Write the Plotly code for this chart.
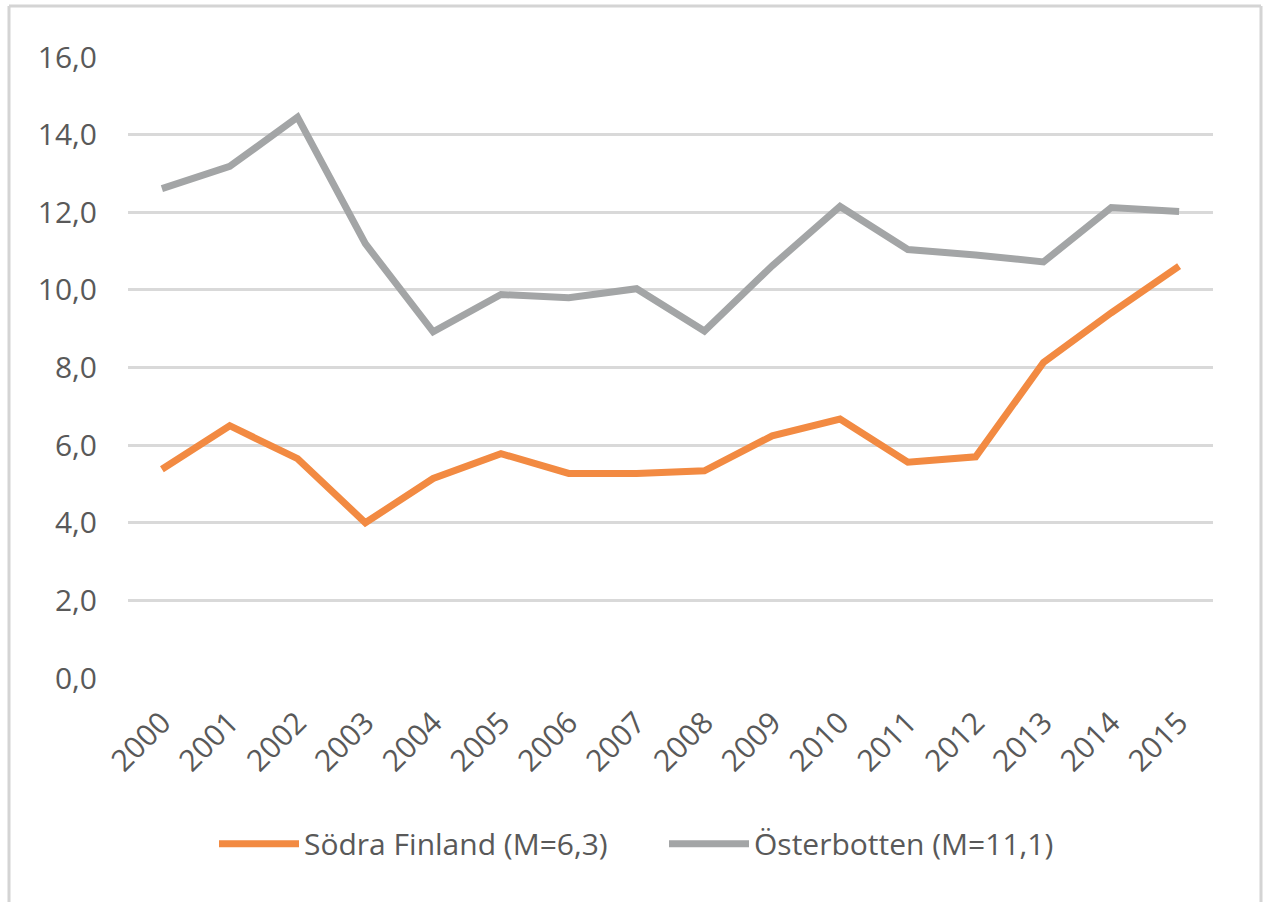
import plotly.graph_objects as go

years = ["2000", "2001", "2002", "2003", "2004", "2005", "2006", "2007",
         "2008", "2009", "2010", "2011", "2012", "2013", "2014", "2015"]
sodra_finland = [5.38, 6.50, 5.65, 4.00, 5.14, 5.78, 5.27, 5.27,
                 5.34, 6.24, 6.67, 5.56, 5.70, 8.13, 9.41, 10.61]
osterbotten = [12.61, 13.18, 14.45, 11.19, 8.92, 9.88, 9.80, 10.03,
               8.94, 10.62, 12.15, 11.04, 10.90, 10.72, 12.12, 12.02]
series_names = ["Södra Finland (M=6,3)", "Österbotten (M=11,1)"]
y_ticks = [0, 2, 4, 6, 8, 10, 12, 14, 16]

ORANGE = "#F28A42"
GRAY = "#A3A5A6"
TEXT = "#595959"
FONT = "Open Sans"
FS = 30

fig = go.Figure()
fig.add_trace(go.Scatter(x=years, y=sodra_finland, mode="lines", name=series_names[0],
                         line=dict(color=ORANGE, width=7), cliponaxis=False))
fig.add_trace(go.Scatter(x=years, y=osterbotten, mode="lines", name=series_names[1],
                         line=dict(color=GRAY, width=7), cliponaxis=False))

# outer frame (left, top, right)
L, R, T, B = 128, 1213, 57, 678
W, H = R - L, B - T
def px(x):
    return (x - L) / W
def py(y):
    return (B - y) / H
frame_col = "#D4D4D4"
for x0, y0, x1, y1 in [(9, 905, 9, 6), (9, 6, 1261, 6), (1261, 6, 1261, 905)]:
    fig.add_shape(type="line", xref="paper", yref="paper",
                  x0=px(x0), y0=py(y0), x1=px(x1), y1=py(y1),
                  line=dict(color=frame_col, width=3), layer="above")

fig.update_layout(
    width=1263, height=902,
    margin=dict(l=L, r=1263 - R, t=T, b=902 - B, autoexpand=False),
    paper_bgcolor="white", plot_bgcolor="white",
    separators=",.",
    font=dict(family=FONT, color=TEXT, size=FS),
    showlegend=True,
    legend=dict(orientation="h", x=px(214), xanchor="left", y=-0.225, yanchor="top",
                font=dict(family=FONT, size=FS, color=TEXT),
                itemwidth=80, entrywidth=355, entrywidthmode="pixels",
                tracegroupgap=0, bgcolor="rgba(0,0,0,0)"),
    xaxis=dict(type="category", range=[-0.5, 15.5], showgrid=False, zeroline=False,
               showline=False, ticks="", tickangle=-45, ticklabelstandoff=20,
               tickfont=dict(family=FONT, size=FS, color=TEXT)),
    yaxis=dict(range=[0, 16], tickvals=y_ticks, tickformat=".1f", showgrid=True,
               gridcolor="#D9D9D9", gridwidth=3, zeroline=False, showline=False,
               ticks="", ticklabelstandoff=30,
               tickfont=dict(family=FONT, size=FS, color=TEXT)),
)

fig.write_html("out.html", config={"displayModeBar": False},
               post_script="document.body.style.margin='0';document.body.style.overflow='hidden';")
